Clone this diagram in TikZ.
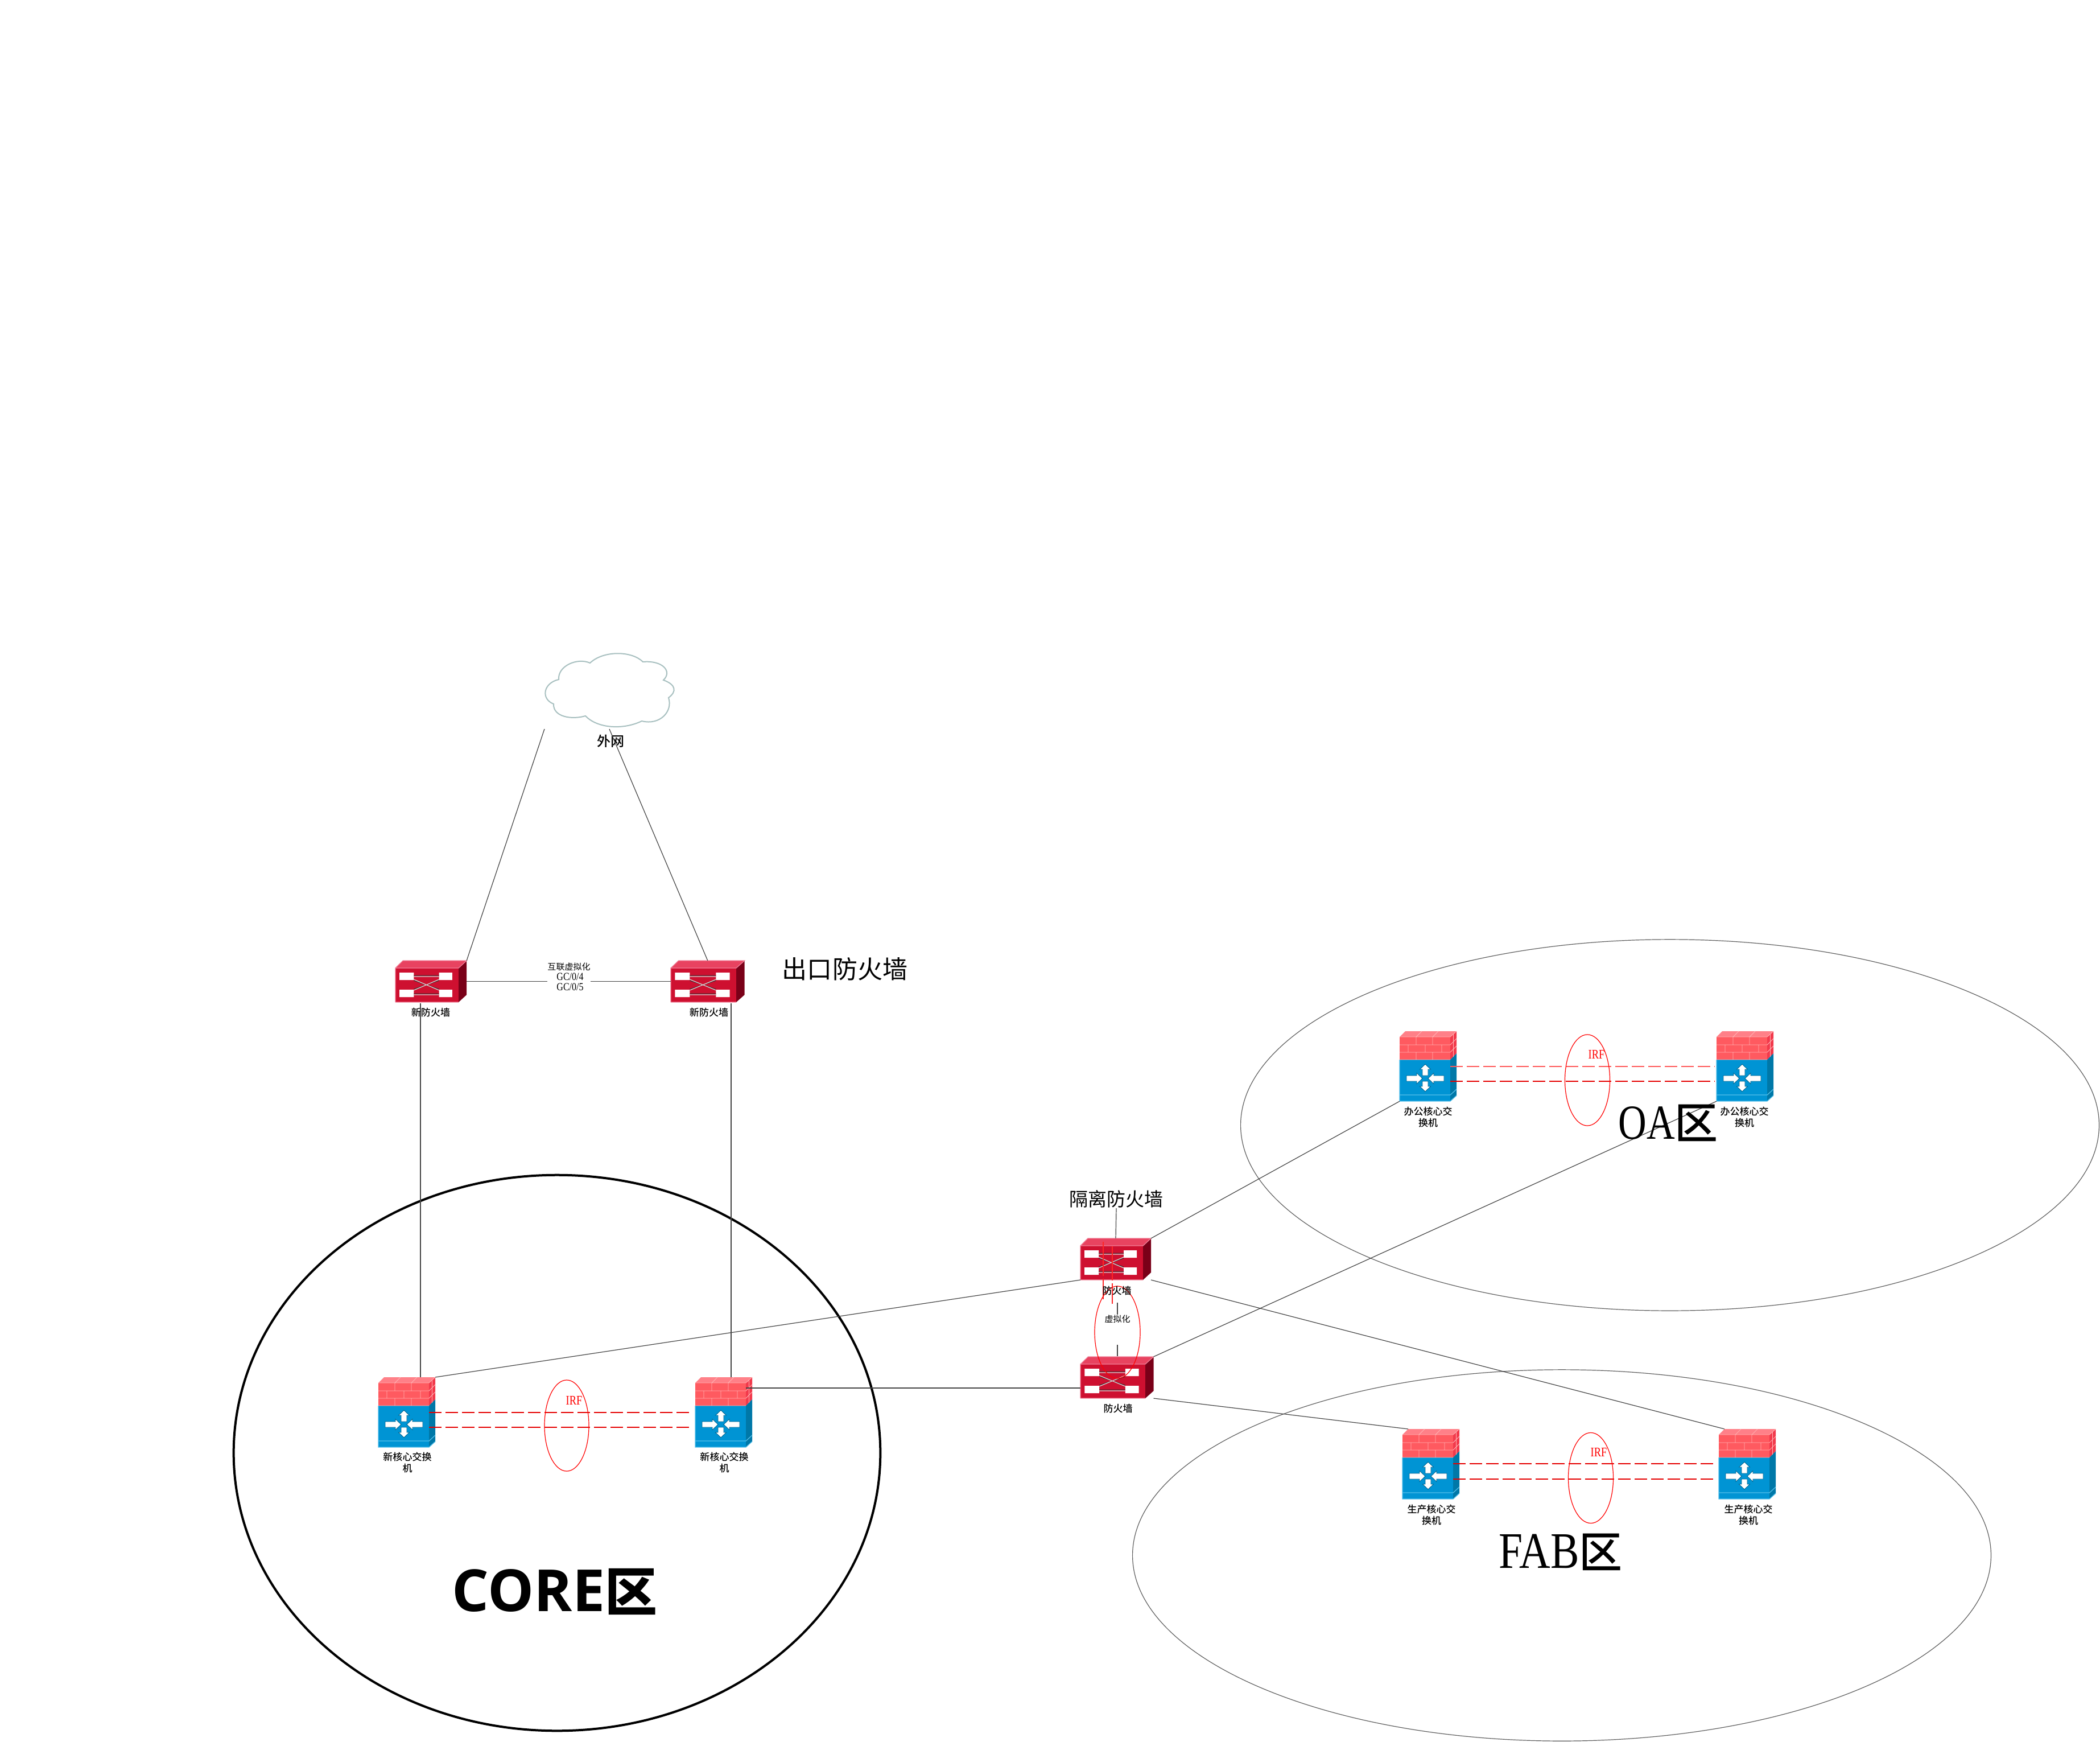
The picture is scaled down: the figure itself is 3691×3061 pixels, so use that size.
\documentclass[tikz,border=0pt]{standalone}
\usepackage{fontspec}
\usetikzlibrary{shapes.geometric}
\setmainfont{Noto Sans CJK SC}
\newfontfamily\cjkm{Noto Sans CJK SC Medium}
\newfontfamily\latn[FakeStretch=0.8]{Liberation Serif}
\newfontfamily\latf[FakeStretch=0.84]{Liberation Serif}
\newfontfamily\opensans{Open Sans}
\definecolor{fwfront}{HTML}{CE1030}
\definecolor{fwtop}{HTML}{E84360}
\definecolor{fwside}{HTML}{7A0018}
\definecolor{fwedge}{HTML}{F08098}
\definecolor{brick}{HTML}{FF5A60}
\definecolor{bricktop}{HTML}{FF8088}
\definecolor{brickside}{HTML}{F23A4C}
\definecolor{mortar}{HTML}{FFB4B4}
\definecolor{swfront}{HTML}{0094D4}
\definecolor{swside}{HTML}{0078A8}
\definecolor{swedge}{HTML}{55C0EA}
\definecolor{swdark}{HTML}{00608A}
\definecolor{linkc}{HTML}{444444}
\definecolor{zonec}{HTML}{606060}
\definecolor{cloudc}{HTML}{A8C0C0}
\newcommand\fpx[1]{\pgfmathsetmacro\fpxv{#1*0.28453}\pgfmathsetmacro\fpxb{#1*0.28453*1.2}\fontsize{\fpxv pt}{\fpxb pt}\selectfont}
\tikzset{
  devbox/.style={rectangle,inner sep=0pt,outer sep=0pt,minimum size=0pt},
  link/.style={draw=linkc,line width=0.012cm},
  irflink/.style={draw=red!90!black,line width=0.025cm,dash pattern=on 0.22cm off 0.07cm},
  vdash/.style={draw=red!85!white,line width=0.018cm,dash pattern=on 0.6cm off 0.05cm},
  zone/.style={ellipse,draw=zonec,line width=0.012cm,inner sep=0pt,outer sep=0pt},
  irfring/.style={ellipse,draw=red,line width=0.012cm,inner sep=0pt,outer sep=0pt},
  devlabel/.style={align=center,inner sep=0pt,text=black,font=\cjkm\fpx{17}},
  irftext/.style={inner sep=0pt,text=red,font=\latn\fpx{23}},
}
% name, x of front, y of front top, width of front
\newcommand\firewall[4]{%
  \pgfmathsetmacro\fwk{#4/110}%
  \begin{scope}[shift={(#2,#3)},xscale=\fwk]
    \fill[fwtop] (0,0) -- (13,-13) -- (124,-13) -- (110,0) -- cycle;
    \fill[fwside] (110,0) -- (124,-13) -- (124,47) -- (110,60) -- cycle;
    \fill[fwfront] (0,0) rectangle (110,60);
    \draw[fwedge,line width=0.012cm] (0,60) -- (0,0) -- (13,-13) -- (124,-13) -- (110,0) -- (0,0) (0,60) -- (110,60);
    \fill[white] (7,8) rectangle (32,21) (76,8) rectangle (99,21) (7,38) rectangle (32,51) (76,38) rectangle (99,51);
    \draw[black!80,line width=0.01cm] (32,13) -- (76,13) (32,45) -- (76,45) (32,37) -- (76,22) (32,22) -- (76,37);
    \draw[white!85!black,line width=0.012cm] (32,15) -- (76,15) (32,47) -- (76,47) (32,39) -- (76,20) (32,20) -- (76,39);
  \end{scope}
  \node[devbox,anchor=north west,minimum width={#4*124/110*0.01cm},minimum height=0.73cm] (#1) at (#2,#3-13) {};
}
% name, x of front, y of front top
\newcommand\switchwall[3]{%
  \begin{scope}[shift={(#2,#3)}]
    \fill[bricktop] (0,0) -- (10,-10) -- (100,-10) -- (89,0) -- cycle;
    \fill[brickside] (89,0) -- (100,-10) -- (100,29) -- (89,40) -- cycle;
    \fill[swside] (89,40) -- (100,29) -- (100,103) -- (89,113) -- cycle;
    \fill[brick] (0,0) rectangle (89,40);
    \fill[swfront] (0,40) rectangle (89,113);
    \draw[mortar,line width=0.008cm]
      (0,0) -- (89,0) (0,14) -- (89,14) (0,27) -- (89,27) (0,40) -- (89,40)
      (29,0) -- (29,14) (58,0) -- (58,14) (29,27) -- (29,40) (58,27) -- (58,40)
      (15,14) -- (15,27) (45,14) -- (45,27) (74,14) -- (74,27)
      (29,0) -- (39,-10) (58,0) -- (68,-10) (89,0) -- (100,-10)
      (89,14) -- (100,3) (89,27) -- (100,16) (94.5,-5) -- (94.5,35);
    \draw[swedge,line width=0.012cm] (0,102) -- (89,102) -- (100,92) (0,40) -- (0,113) -- (89,113) -- (100,103);
    \begin{scope}[draw=swdark,fill=white,line width=0.008cm]
      \filldraw (45,48) -- (54.5,57) -- (50,57) -- (50,68) -- (40,68) -- (40,57) -- (35.5,57) -- cycle;
      \filldraw (45,96) -- (54.5,87) -- (50,87) -- (50,78) -- (40,78) -- (40,87) -- (35.5,87) -- cycle;
      \filldraw (40,73) -- (30,63.5) -- (30,68) -- (12,68) -- (12,78) -- (30,78) -- (30,82.5) -- cycle;
      \filldraw (50,73) -- (60,63.5) -- (60,68) -- (78,68) -- (78,78) -- (60,78) -- (60,82.5) -- cycle;
    \end{scope}
  \end{scope}
  \node[devbox,anchor=north west,minimum width=1cm,minimum height=1.23cm] (#1) at (#2,#3-10) {};
  \coordinate (#1-roof) at (#2+10,#3-10);
}
\begin{document}
\begin{tikzpicture}[x=0.01cm,y=-0.01cm]
\useasboundingbox (0,0) rectangle (3691,3061);
\fill[white] (0,0) rectangle (3691,3061);

% zones
\node[zone,minimum width=15.08cm,minimum height=6.52cm] (oazone) at (2935,1977) {};
\node[zone,minimum width=15.08cm,minimum height=6.52cm] (fabzone) at (2745,2733) {};
\node[ellipse,draw=black,line width=0.04cm,inner sep=0pt,outer sep=0pt,minimum width=11.36cm,minimum height=9.76cm] (corezone) at (979,2553) {};

% cloud
\draw[cloudc,fill=white,line width=0.02cm]
  (1037,1165) .. controls (1060,1143) and (1110,1143) .. (1130,1163)
  .. controls (1165,1160) and (1182,1180) .. (1166,1195)
  .. controls (1188,1203) and (1190,1215) .. (1175,1226)
  .. controls (1183,1250) and (1160,1275) .. (1128,1267)
  .. controls (1095,1283) and (1050,1280) .. (1029,1258)
  .. controls (1005,1265) and (972,1260) .. (973,1237)
  .. controls (950,1228) and (955,1200) .. (982,1194)
  .. controls (980,1170) and (1015,1155) .. (1037,1165) -- cycle;
\node[devbox,minimum width=2.28cm,minimum height=1.34cm] (net) at (1071,1214) {};

% devices
\firewall{fwL}{695}{1701}{111}
\firewall{fwR}{1179}{1701}{115}
\firewall{fwA}{1899}{2189}{110}
\firewall{fwB}{1899}{2397}{114}
\switchwall{swA}{665}{2430}
\switchwall{swB}{1222}{2430}
\switchwall{oaA}{2460}{1822}
\switchwall{oaB}{3017}{1822}
\switchwall{fabA}{2465}{2521}
\switchwall{fabB}{3021}{2521}

% free ports
\coordinate (pL1) at (739,1763);
\coordinate (pL2) at (739,2420);
\coordinate (pR1) at (1285,1763);
\coordinate (pR2) at (1285,2420);
\coordinate (pB1) at (1311,2439);
\coordinate (pB2) at (1899,2439);
\coordinate (pV1) at (1964,2289);
\coordinate (pV2) at (1964,2383);

% labels
\node[font=\cjkm\fpx{24},inner sep=0pt] (netlabel) at (1073,1302) {外网};
\node[font=\fpx{44},inner sep=0pt] (exitlabel) at (1485,1703) {出口防火墙};
\node[font=\fpx{33},inner sep=0pt] (isolabel) at (1962,2107) {隔离防火墙};

% connectors
\draw[link] (net.south west) -- (fwL.north east);
\draw[link] (net.south) -- (fwR.north);
\draw[link] (fwL.east) -- (fwR.west);
\draw[link] (pL1) -- (pL2);
\draw[link] (pR1) -- (pR2);
\draw[link] (isolabel.south) -- (fwA.north);
\draw[link] (fwA.south west) -- (swA.north east);
\draw[link] (pB1) -- (pB2);
\draw[link] (fwA.north east) -- (oaA.south west);
\draw[link] (fwB.north east) -- (oaB.south west);
\draw[link] (fwA.south east) -- (fabB-roof);
\draw[link] (fwB.south east) -- (fabA-roof);
\draw[link] (pV1) -- (pV2);

% link labels
\node[fill=white,align=center,inner sep=0pt,minimum width=0.76cm,font=\fpx{15}] (iflabel) at (1000,1716) {互联虚拟化\\{\latf\fpx{19} GC/0/4}\\{\latf\fpx{19} GC/0/5}};
\node[fill=white,inner sep=0pt,minimum width=0.5cm,minimum height=0.53cm] (vlabel) at (1964,2336) {};
\node[font=\fpx{15},inner sep=0pt] (vtext) at (1964,2318) {虚拟化};

% IRF pairs
\draw[irflink] (754,2482) -- (1218,2482);
\draw[irflink] (754,2508) -- (1218,2508);
\draw[irflink,line width=0.018cm,red!65] (2549,1874) -- (3014,1874);
\draw[irflink] (2549,1900) -- (3014,1900);
\draw[irflink] (2554,2572) -- (3018,2572);
\draw[irflink] (2554,2599) -- (3018,2599);
\coordinate (vd1a) at (1939,2182);
\coordinate (vd1b) at (1939,2283);
\coordinate (vd2a) at (1955,2190);
\coordinate (vd2b) at (1955,2291);
\draw[vdash] (vd1a) -- (vd1b);
\draw[vdash] (vd2a) -- (vd2b);

\node[irfring,minimum width=0.78cm,minimum height=1.6cm] (ringA) at (996,2505) {};
\node[irfring,minimum width=0.79cm,minimum height=1.6cm] (ringB) at (2790,1898) {};
\node[irfring,minimum width=0.79cm,minimum height=1.59cm] (ringC) at (2796,2597) {};
\node[irfring,minimum width=0.8cm,minimum height=1.62cm] (ringD) at (1964,2341) {};
\node[irftext] (irfA) at (1009,2461) {IRF};
\node[irftext] (irfB) at (2806,1853) {IRF};
\node[irftext] (irfC) at (2810,2552) {IRF};

% device labels
\node[devlabel] (lbfwL) at (757,1779) {新防火墙};
\node[devlabel] (lbfwR) at (1246,1779) {新防火墙};
\node[devlabel] (lbfwA) at (1963,2268) {防火墙};
\node[devlabel] (lbfwB) at (1965,2475) {防火墙};
\node[devlabel] (lbswA) at (716,2570) {新核心交换\\机};
\node[devlabel] (lbswB) at (1273,2570) {新核心交换\\机};
\node[devlabel] (lboaA) at (2510,1963) {办公核心交\\换机};
\node[devlabel] (lboaB) at (3066,1963) {办公核心交\\换机};
\node[devlabel] (lbfabA) at (2516,2662) {生产核心交\\换机};
\node[devlabel] (lbfabB) at (3073,2662) {生产核心交\\换机};

% zone titles
\node[inner sep=0pt] (oatitle) at (2932,1973) {{\latn\fpx{86}OA}{\cjkm\fpx{76}区}};
\node[inner sep=0pt] (fabtitle) at (2743,2727) {{\latf\fpx{90}FAB}{\cjkm\fpx{76}区}};
\node[inner sep=0pt] (coretitle) at (975,2797) {{\opensans\bfseries\fpx{102}CORE}{\bfseries\fpx{92}区}};
\end{tikzpicture}
\end{document}
